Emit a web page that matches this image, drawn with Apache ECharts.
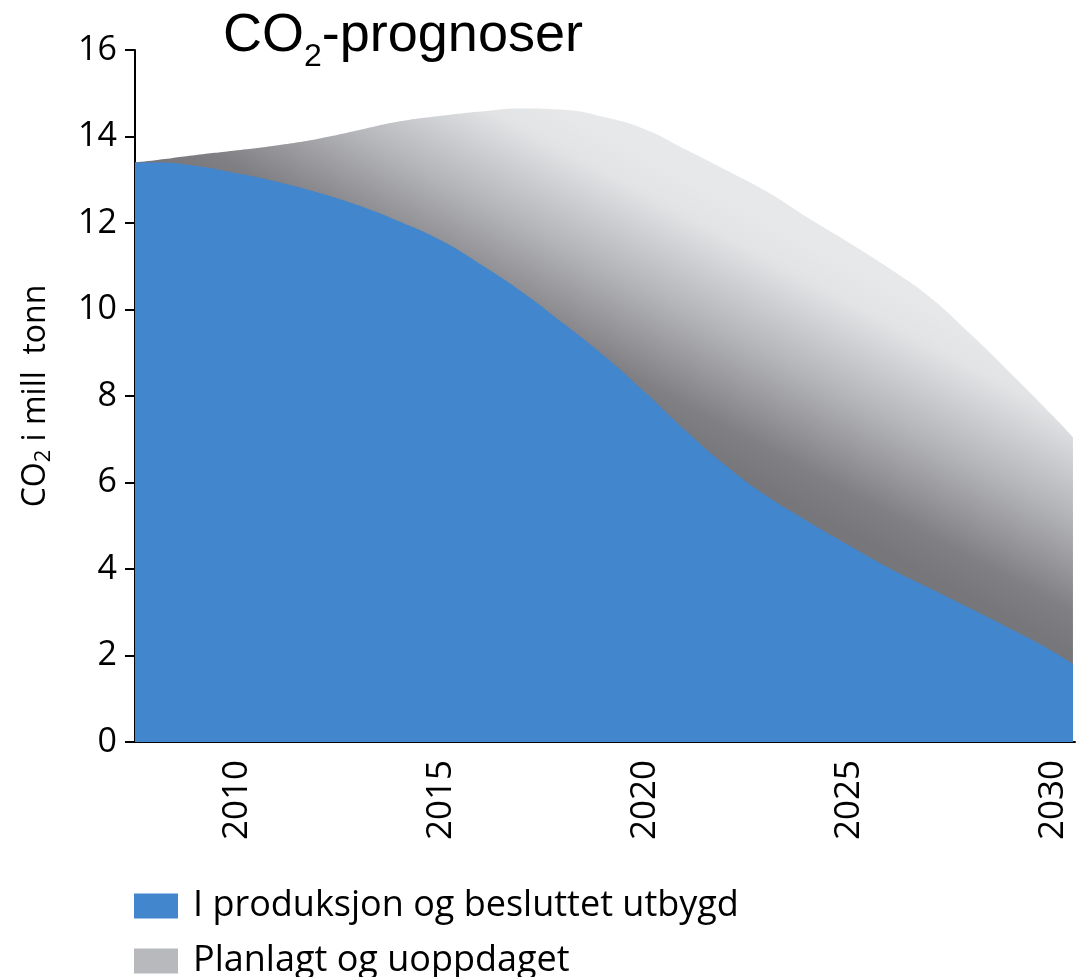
<!DOCTYPE html>
<html>
<head>
<meta charset="utf-8">
<script src="https://cdn.jsdelivr.net/npm/echarts@6/dist/echarts.min.js"></script>
<style>
  html, body { margin: 0; padding: 0; background: #fff; }
  #chart { width: 1079px; height: 977px; }
</style>
</head>
<body>
<div id="chart"></div>
<script>
// aar og verdier lest av figuren (mill tonn CO2)
const years = [2007.5, 2008, 2009, 2010, 2011, 2012, 2013, 2014, 2015, 2016, 2017, 2018, 2019,
  2020, 2021, 2022, 2023, 2024, 2025, 2026, 2027, 2028, 2029, 2030, 2030.5];
const besluttet = [13.4, 13.4, 13.32, 13.15, 12.95, 12.7, 12.4, 12.03, 11.6, 11.03, 10.4, 9.68, 8.93,
  8.09, 7.2, 6.38, 5.68, 5.1, 4.55, 4.02, 3.55, 3.08, 2.6, 2.1, 1.8];
// toppen av det grå feltet = besluttet + planlagt/uoppdaget
const totalt = [13.4, 13.45, 13.57, 13.68, 13.8, 13.95, 14.15, 14.35, 14.48, 14.58, 14.65, 14.62, 14.45,
  14.17, 13.7, 13.22, 12.72, 12.12, 11.55, 10.95, 10.28, 9.42, 8.5, 7.55, 7.05];
const yearTicks = [2010, 2015, 2020, 2025, 2030];
const seriesNames = ["I produksjon og besluttet utbygd", "Planlagt og uoppdaget"];

const chart = echarts.init(document.getElementById("chart"));

const blueData = years.map((y, i) => [y, besluttet[i]]);
const totalData = years.map((y, i) => [y, totalt[i]]);

chart.setOption({
  animation: false,
  title: {
    text: "{a|CO}{s|2}{a|-prognoser}",
    left: 218,
    top: 1,
    textStyle: {
      rich: {
        a: { fontFamily: "Liberation Sans", fontWeight: "normal", fontSize: 54, lineHeight: 60, color: "#000" },
        // senket indeks
        s: { fontFamily: "Liberation Sans", fontWeight: "normal", fontSize: 32, lineHeight: 32, padding: [42, 0, 0, 0], color: "#000" },
      },
    },
  },
  legend: {
    orient: "vertical",
    left: 129,
    top: 883,
    height: 100,
    icon: "rect",
    itemWidth: 44,
    itemHeight: 25,
    itemGap: 19,
    textStyle: { fontFamily: "Open Sans", fontSize: 36, lineHeight: 30, color: "#000", padding: [0, 0, 0, 10] },
    data: [
      { name: seriesNames[0], itemStyle: { color: "#4286cd" } },
      { name: seriesNames[1], itemStyle: { color: "#b8b9bc" } },
    ],
  },
  grid: { left: 135, right: 4, top: 50, bottom: 235 },
  xAxis: {
    type: "value",
    min: 2007.5,
    max: 2030.55,
    axisLine: { onZero: false, lineStyle: { color: "#000", width: 2 } },
    axisTick: { show: false },
    splitLine: { show: false },
    axisLabel: {
      customValues: yearTicks,
      formatter: (v) => String(v),
      rotate: 90,
      margin: 18,
      fontFamily: "Open Sans",
      fontSize: 35,
      color: "#000",
    },
  },
  yAxis: {
    type: "value",
    min: 0,
    max: 16,
    interval: 2,
    name: "{a|CO}{s|2}{a| i mill  tonn}",
    nameLocation: "center",
    nameGap: 80,
    nameTextStyle: {
      rich: {
        a: { fontFamily: "Open Sans", fontSize: 32, lineHeight: 38, color: "#000" },
        s: { fontFamily: "Open Sans", fontSize: 22, lineHeight: 20, verticalAlign: "bottom", color: "#000" },
      },
    },
    axisLine: { show: true, lineStyle: { color: "#000", width: 2 } },
    axisTick: { show: true, length: 10, lineStyle: { color: "#000", width: 2 } },
    splitLine: { show: false },
    axisLabel: { margin: 18, fontFamily: "Open Sans", fontSize: 34, color: "#000" },
  },
  series: [
    {
      // grått felt tegnes fra 0 til totalen, blått legges oppå
      name: seriesNames[1],
      type: "line",
      z: 1,
      smooth: true,
      showSymbol: false,
      lineStyle: { width: 0, opacity: 0 },
      itemStyle: { color: "#b8b9bc" },
      areaStyle: {
        opacity: 1,
        color: {
          type: "linear",
          x: 0.496, y: 0.461, x2: 0.616, y2: 0.128,
          colorStops: [
            { offset: 0, color: "#77767b" },
            { offset: 0.15, color: "#807f84" },
            { offset: 0.5, color: "#b4b5b9" },
            { offset: 0.85, color: "#e2e3e5" },
            { offset: 1, color: "#e7e8ea" },
          ],
        },
      },
      data: totalData,
    },
    {
      name: seriesNames[0],
      type: "line",
      z: 2,
      smooth: true,
      showSymbol: false,
      lineStyle: { width: 0, opacity: 0 },
      itemStyle: { color: "#4286cd" },
      areaStyle: { color: "#4286cd", opacity: 1 },
      data: blueData,
    },
  ],
});
</script>
</body>
</html>
